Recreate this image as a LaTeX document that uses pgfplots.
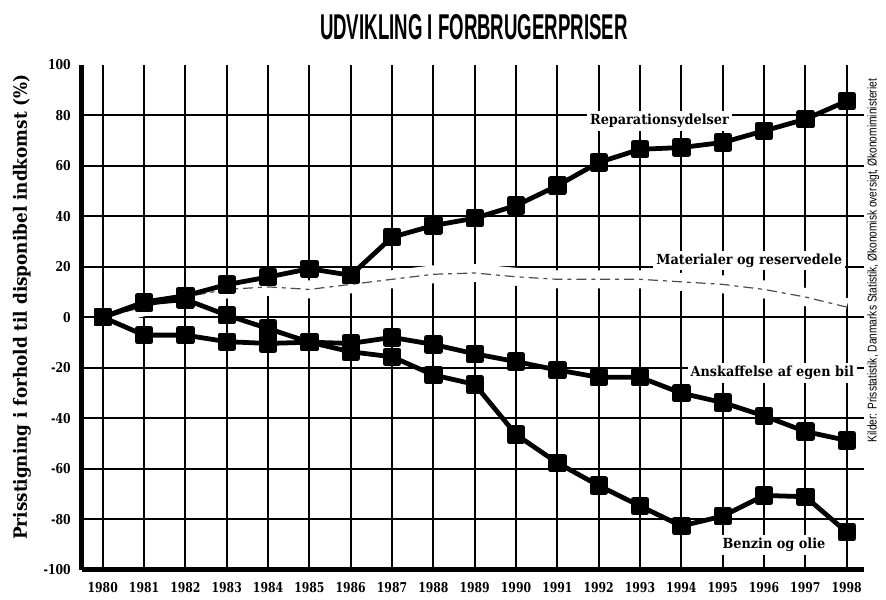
\documentclass[border=0pt]{standalone}
\usepackage{fontspec}
\usepackage{pgfplots}
\pgfplotsset{compat=1.18}
\usepackage{pgfplotstable}
\usepackage{graphicx}
\setmainfont{DejaVu Serif}
\newfontfamily\tickfont{DejaVu Serif}[FakeStretch=0.8]
\newfontfamily\labfont{DejaVu Serif}[FakeStretch=0.92]
\newfontfamily\titlefont{Liberation Sans}[FakeStretch=0.52]
\newfontfamily\srcfont{Liberation Sans}[FakeStretch=0.8]

\pgfplotstableread{
year val
1980 0
1981 6.0
1982 8.5
1983 12.9
1984 15.9
1985 19.2
1986 16.6
1987 31.7
1988 36.3
1989 39.2
1990 44.2
1991 52.1
1992 61.3
1993 66.5
1994 67.2
1995 69.2
1996 73.8
1997 78.4
1998 85.6
}\rep

\pgfplotstableread{
year val
1980 0
1981 4
1982 8
1983 11
1984 12
1985 11
1986 13
1987 15
1988 17
1989 17.5
1990 16
1991 15
1992 15
1993 15
1994 14
1995 13
1996 11
1997 8
1998 4
}\mat

\pgfplotstableread{
year val
1980 0
1981 -7.1
1982 -7.1
1983 -9.7
1984 -10.4
1985 -9.9
1986 -10.4
1987 -8.0
1988 -10.8
1989 -14.5
1990 -17.6
1991 -20.9
1992 -23.8
1993 -23.8
1994 -30.1
1995 -33.8
1996 -39.1
1997 -45.3
1998 -48.8
}\bil

\pgfplotstableread{
year val
1980 0
1981 5.5
1982 7.0
1983 0.8
1984 -4.5
1985 -9.9
1986 -13.7
1987 -15.7
1988 -22.9
1989 -26.6
1990 -46.5
1991 -57.7
1992 -66.7
1993 -74.8
1994 -82.7
1995 -78.8
1996 -70.6
1997 -71.1
1998 -85.1
}\benz

\begin{document}
\begin{tikzpicture}
\begin{axis}[
  scale only axis, width=393pt, height=253.5pt,
  xmin=1979.49, xmax=1998.43, ymin=-100, ymax=100,
  axis x line*=bottom, axis y line*=left,
  axis line style={line width=2.3pt,-},
  xtick={1980,...,1998}, ytick={-100,-80,...,80},
  extra y ticks={100}, extra tick style={grid=none},
  grid=major, major grid style={black, line width=0.9pt},
  major tick length=0pt,
  xticklabel style={font=\tickfont\bfseries\fontsize{6.8}{7}\selectfont, yshift=-3pt},
  yticklabel style={font=\tickfont\bfseries\fontsize{6.8}{7}\selectfont, xshift=-2pt},
  /pgf/number format/assume math mode=true,
  /pgf/number format/1000 sep={},
  clip=false,
]
\addplot[white, line width=9pt, line join=round] table[x=year,y=val] {\mat};
\addplot[black!70, line width=0.6pt, dash pattern=on 5pt off 2.5pt on 2pt off 2.5pt] table[x=year,y=val] {\mat};
\addplot[black, line width=2.4pt, line join=round, mark=square*, mark size=3.4pt, mark options={solid}] table[x=year,y=val] {\rep};
\addplot[black, line width=2.4pt, line join=round, mark=square*, mark size=3.4pt, mark options={solid}] table[x=year,y=val] {\bil};
\addplot[black, line width=2.4pt, line join=round, mark=square*, mark size=3.4pt, mark options={solid}] table[x=year,y=val] {\benz};

\node[fill=white, inner sep=1.5pt, font=\labfont\bfseries\fontsize{7}{8}\selectfont] at (axis cs:1993.47,77.7) {Reparationsydelser};
\node[fill=white, inner sep=1.5pt, font=\labfont\bfseries\fontsize{7}{8}\selectfont] at (axis cs:1995.64,22.5) {Materialer og reservedele};
\node[fill=white, inner sep=1.5pt, font=\labfont\bfseries\fontsize{7}{8}\selectfont] at (axis cs:1996.2,-22.1) {Anskaffelse af egen bil};
\node[fill=white, inner sep=1.5pt, font=\labfont\bfseries\fontsize{7}{8}\selectfont] at (axis cs:1996.24,-90.2) {Benzin og olie};

\node[font=\titlefont\bfseries\fontsize{18}{18}\selectfont] at (rel axis cs:0.501,1) [yshift=19pt] {UDVIKLING I FORBRUGERPRISER};
\node[font=\labfont\bfseries\fontsize{9.2}{10}\selectfont, xshift=-30pt, rotate=90] at (rel axis cs:0,0.52) {Prisstigning i forhold til disponibel indkomst (\%)};
\node[font=\srcfont\fontsize{6.4}{7}\selectfont, xshift=4.5pt, rotate=90] at (rel axis cs:1,0.612) {Kilder: Prisstatistik, Danmarks Statistik, Økonomisk oversigt, Økonomiministeriet};
\end{axis}
\path (-41pt,-14.5pt) rectangle (402pt,286pt);
\end{tikzpicture}
\end{document}
